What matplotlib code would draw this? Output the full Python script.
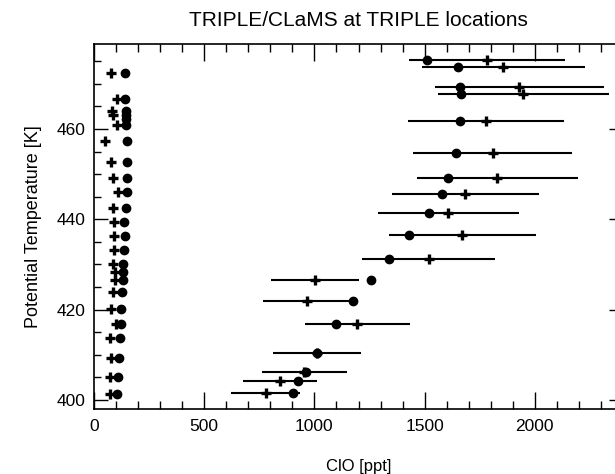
import numpy as np
import matplotlib
matplotlib.use("Agg")
import matplotlib.pyplot as plt
from matplotlib.ticker import MultipleLocator

# low-ClO locations: potential temperature [K], observed (+) and CLaMS (o) ClO [ppt]
theta_low = [472.4, 466.7, 463.9, 463.0, 462.1, 460.8, 457.3, 452.7, 449.2, 446.0,
             442.4, 439.4, 436.3, 433.1, 430.2, 428.4, 426.5, 423.8, 420.1, 416.9,
             413.8, 409.2, 405.0, 401.3]
obs_low = [76, 103, 80, 85, np.nan, 106, 50, 76, 88, 110,
           88, 91, 91, 91, 88, 95, 95, 88, 76, 100,
           73, 76, 73, 73]
clams_low = [141, 141, 144, 144, 144, 144, 148, 148, 148, 148,
             144, 136, 141, 136, 130, 130, 130, 126, 123, 123,
             118, 113, 108, 103]

# high-ClO locations with observation uncertainty
theta_high = [475.3, 473.7, 469.2, 467.8, 461.7, 454.7, 449.1, 445.5, 441.4, 436.6,
              431.3, 426.5, 421.9, 416.8, 410.4, 406.3, 404.1, 401.6]
obs_high = [1782, 1857, 1930, 1948, 1777, 1809, 1830, 1685, 1608, 1671,
            1518, 1003, 966, 1195, 1011, 955, 845, 779]
obs_err = [355, 370, 385, 388, 354, 361, 364, 335, 321, 333,
           302, 199, 201, 238, 200, 191, 168, 157]
clams_high = [1512, 1653, 1661, 1664, 1661, 1642, 1608, 1579, 1521, 1430,
              1340, 1257, 1176, 1099, 1010, 960, 926, 904]

plt.rcParams["font.family"] = ["Liberation Sans", "DejaVu Sans"]

fig = plt.figure(figsize=(6.15, 4.74), dpi=100)
ax = fig.add_axes([94 / 615, 65 / 474, 529 / 615, 365 / 474])

ax.errorbar(obs_high, theta_high, xerr=obs_err, fmt="none", ecolor="black",
            elinewidth=1.5, capsize=0)
ax.plot(obs_high, theta_high, "+", color="black", ms=6.5, mew=2.4)
ax.plot(clams_high, theta_high, "o", color="black", ms=6)
ax.plot(obs_low, theta_low, "+", color="black", ms=6.5, mew=2.4)
ax.plot(clams_low, theta_low, "o", color="black", ms=6)

ax.set_xlim(0, 2400)
ax.set_ylim(398, 478.8)
ax.xaxis.set_major_locator(MultipleLocator(500))
ax.xaxis.set_minor_locator(MultipleLocator(100))
ax.yaxis.set_major_locator(MultipleLocator(20))
ax.yaxis.set_minor_locator(MultipleLocator(5))
ax.tick_params(axis="x", which="major", direction="in", top=True, length=12,
               width=1, labelsize=12.5, pad=7)
ax.tick_params(axis="x", which="minor", direction="in", top=True, length=6, width=1)
ax.tick_params(axis="y", which="major", direction="in", right=True, length=10,
               width=1, labelsize=12.5, pad=6)
ax.tick_params(axis="y", which="minor", direction="in", right=True, length=5, width=1)
for s in ax.spines.values():
    s.set_linewidth(1.2)

ax.set_xlabel("ClO [ppt]", fontsize=12, labelpad=18)
ax.set_ylabel("Potential Temperature [K]", fontsize=13, labelpad=11)
ax.set_title("TRIPLE/CLaMS at TRIPLE locations", fontsize=15, pad=13)

fig.savefig("out.png", dpi=100)
plt.close(fig)
